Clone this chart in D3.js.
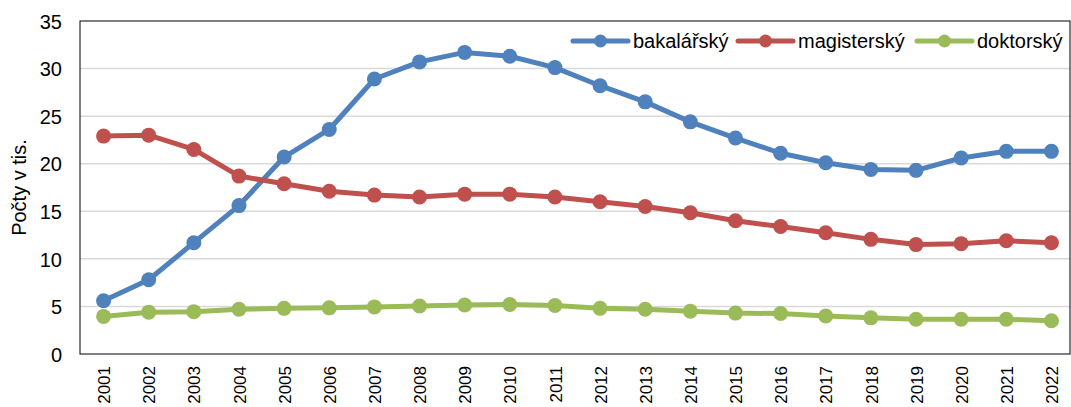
<!DOCTYPE html>
<html>
<head>
<meta charset="utf-8">
<script src="https://cdn.jsdelivr.net/npm/d3@7"></script>
<style>
  body { margin: 0; background: #fff; }
  svg { font-family: "Liberation Sans", Arial, sans-serif; }
</style>
</head>
<body>
<script>
var years = ["2001","2002","2003","2004","2005","2006","2007","2008","2009","2010","2011",
             "2012","2013","2014","2015","2016","2017","2018","2019","2020","2021","2022"];
var bakalarsky = [5.6, 7.8, 11.7, 15.6, 20.7, 23.6, 28.9, 30.7, 31.7, 31.3, 30.1,
                  28.2, 26.5, 24.4, 22.7, 21.1, 20.1, 19.4, 19.3, 20.6, 21.3, 21.3];
var magistersky = [22.9, 23.0, 21.5, 18.7, 17.9, 17.1, 16.7, 16.5, 16.8, 16.8, 16.5,
                   16.0, 15.5, 14.85, 14.0, 13.4, 12.75, 12.05, 11.5, 11.6, 11.9, 11.7];
var doktorsky = [3.95, 4.4, 4.45, 4.7, 4.8, 4.85, 4.95, 5.05, 5.15, 5.2, 5.1,
                 4.8, 4.7, 4.5, 4.3, 4.25, 4.0, 3.8, 3.65, 3.65, 3.65, 3.5];
var seriesNames = ["bakalářský", "magisterský", "doktorský"];
var yTicks = [0, 5, 10, 15, 20, 25, 30, 35];

var colors = ["#4F81BD", "#C0504D", "#9BBB59"];
var series = [bakalarsky, magistersky, doktorsky];

var W = 1071, H = 407;
var plotL = 80, plotR = 1070, plotT = 21, plotB = 354;

var svg = d3.select("body").append("svg")
  .attr("width", W).attr("height", H);

// the category bands run a little past the right frame edge
var x = d3.scalePoint().domain(years).range([81, 1074]).padding(0.5);
var y = d3.scaleLinear().domain([0, 35]).range([plotB, plotT]);

// gridlines
svg.append("g")
  .selectAll("line")
  .data(yTicks.slice(1, -1))
  .enter().append("line")
  .attr("x1", plotL).attr("x2", plotR)
  .attr("y1", function(d) { return y(d); })
  .attr("y2", function(d) { return y(d); })
  .style("stroke", "#d9d9d9")
  .style("stroke-width", 1.5);

// frame
svg.append("rect")
  .attr("x", plotL).attr("y", plotT)
  .attr("width", plotR - plotL).attr("height", plotB - plotT)
  .attr("fill", "none")
  .style("stroke", "#000")
  .style("stroke-width", 1);

// y axis
var yAxis = svg.append("g")
  .attr("transform", "translate(" + plotL + ",0)")
  .call(d3.axisLeft(y).tickValues(yTicks).tickSize(0).tickPadding(18));
yAxis.select(".domain").remove();
yAxis.selectAll("text")
  .style("font-size", "20px")
  .style("fill", "#000")
  .attr("dy", "0.36em");

// x axis
var xAxis = svg.append("g")
  .attr("transform", "translate(0," + plotB + ")")
  .call(d3.axisBottom(x).tickSize(0));
xAxis.select(".domain").remove();
xAxis.selectAll("text")
  .style("font-size", "17px")
  .style("fill", "#000")
  .attr("text-anchor", "end")
  .attr("transform", "rotate(-90)")
  .attr("x", -12)
  .attr("y", 0)
  .attr("dy", "0.36em");

// y label
svg.append("text")
  .attr("transform", "translate(26," + ((plotT + plotB) / 2) + ") rotate(-90)")
  .attr("text-anchor", "middle")
  .style("font-size", "20px")
  .text("Počty v tis.");

// lines
var line = d3.line()
  .x(function(d, i) { return x(years[i]); })
  .y(function(d) { return y(d); });

series.forEach(function(vals, k) {
  svg.append("path")
    .datum(vals)
    .attr("d", line)
    .attr("fill", "none")
    .style("stroke", colors[k])
    .style("stroke-width", 5)
    .style("stroke-linejoin", "round");
  svg.append("g")
    .selectAll("circle")
    .data(vals)
    .enter().append("circle")
    .attr("cx", function(d, i) { return x(years[i]); })
    .attr("cy", function(d) { return y(d); })
    .attr("r", 7.5)
    .attr("fill", colors[k]);
});

// legend
var legX = [573, 738, 917];
var legY = 41;
var leg = svg.append("g")
  .selectAll("g")
  .data(seriesNames)
  .enter().append("g")
  .attr("transform", function(d, i) { return "translate(" + legX[i] + "," + legY + ")"; });
leg.append("line")
  .attr("x1", 0).attr("x2", 55)
  .style("stroke", function(d, i) { return colors[i]; })
  .style("stroke-width", 5)
  .style("stroke-linecap", "round");
leg.append("circle")
  .attr("cx", 27.5).attr("r", 6.5)
  .attr("fill", function(d, i) { return colors[i]; });
leg.append("text")
  .attr("x", 60)
  .attr("dy", "0.36em")
  .style("font-size", "20px")
  .text(function(d) { return d; });
</script>
</body>
</html>
